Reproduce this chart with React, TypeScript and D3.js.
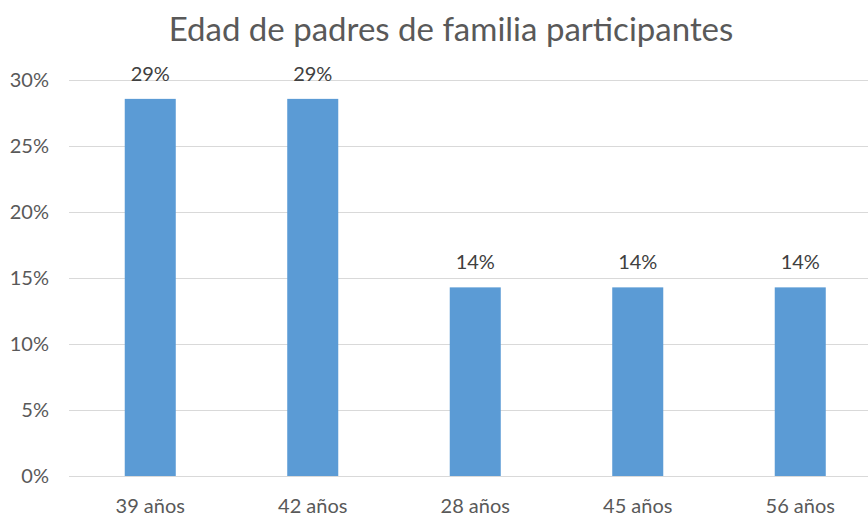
import React, { useEffect, useRef } from 'react';
import * as d3 from 'd3';

const categories = ['39 años', '42 años', '28 años', '45 años', '56 años'];
const values = [0.2857, 0.2857, 0.1429, 0.1429, 0.1429];
const valueLabels = ['29%', '29%', '14%', '14%', '14%'];
const yTicks = [0, 0.05, 0.1, 0.15, 0.2, 0.25, 0.3];

const W = 868;
const H = 516;
const FONT = 'Lato, "Noto Sans", sans-serif';

const App = () => {
  const ref = useRef<SVGSVGElement | null>(null);

  useEffect(() => {
    const svg = d3.select(ref.current);
    svg.selectAll('*').remove();

    const x = d3.scaleBand<string>()
      .domain(categories)
      .range([69, 881.5])
      .paddingInner(0.686)
      .paddingOuter(0.343);

    const y = d3.scaleLinear().domain([0, 0.3]).range([476, 80]);

    // titulo
    svg.append('text')
      .attr('x', 451)
      .attr('y', 41)
      .attr('text-anchor', 'middle')
      .style('font-family', FONT)
      .style('font-size', '33px')
      .style('fill', '#595959')
      .text('Edad de padres de familia participantes');

    // grid + etiquetas del eje Y
    const yAxis = svg.append('g')
      .attr('transform', 'translate(69,0)')
      .call(d3.axisLeft(y).tickValues(yTicks).tickFormat(d3.format('.0%')).tickSize(-(W - 69)).tickPadding(20));
    yAxis.select('.domain').remove();
    yAxis.selectAll('.tick line').attr('stroke', '#d9d9d9').attr('stroke-width', 1);
    yAxis.selectAll('.tick text')
      .style('fill', '#595959')
      .style('font-family', FONT)
      .style('font-size', '20px');

    // barras
    svg.append('g')
      .selectAll('rect')
      .data(values)
      .enter().append('rect')
      .attr('x', (_, i) => x(categories[i])!)
      .attr('y', d => y(d))
      .attr('width', x.bandwidth())
      .attr('height', d => y(0) - y(d))
      .attr('fill', '#5b9bd5');

    // etiquetas de valor
    svg.append('g')
      .selectAll('text')
      .data(values)
      .enter().append('text')
      .attr('x', (_, i) => x(categories[i])! + x.bandwidth() / 2)
      .attr('y', d => y(d) - 18)
      .attr('text-anchor', 'middle')
      .style('font-family', FONT)
      .style('font-size', '20px')
      .style('fill', '#404040')
      .text((_, i) => valueLabels[i]);

    // eje X
    svg.append('g')
      .selectAll('text')
      .data(categories)
      .enter().append('text')
      .attr('x', d => x(d)! + x.bandwidth() / 2)
      .attr('y', 513)
      .attr('text-anchor', 'middle')
      .style('font-family', FONT)
      .style('font-size', '20px')
      .style('fill', '#595959')
      .text(d => d);
  }, []);

  return (
    <div style={{ position: 'absolute', left: 0, top: 0, width: W, height: H, background: '#fff' }}>
      <svg ref={ref} width={W} height={H} />
    </div>
  );
};

export default App;
